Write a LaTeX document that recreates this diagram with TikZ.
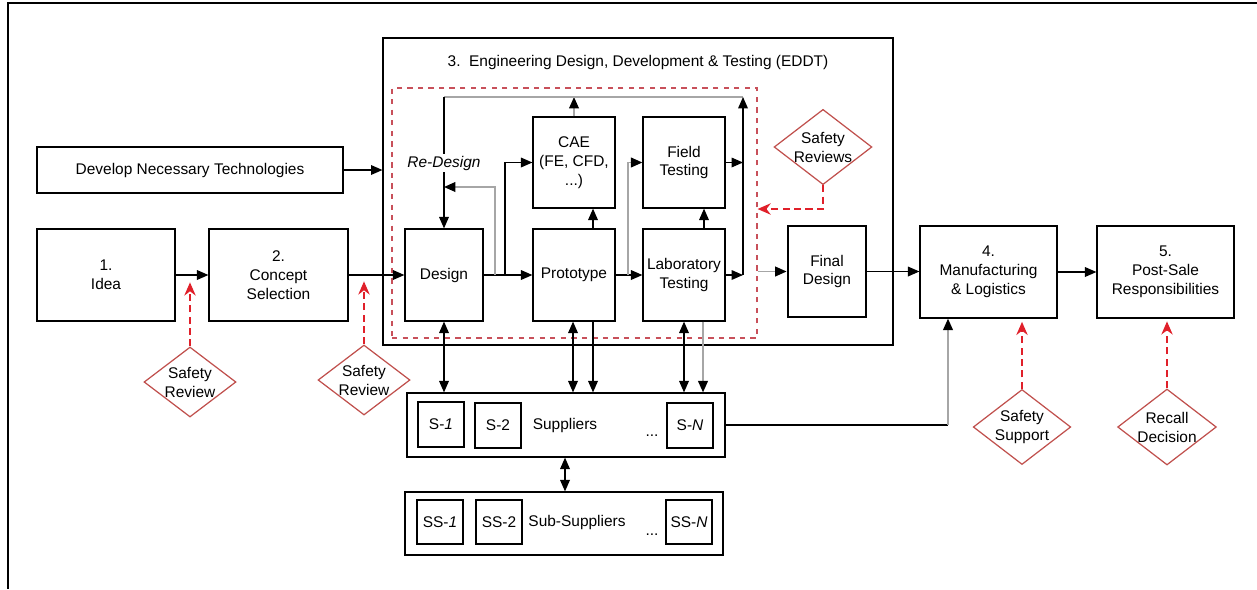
\documentclass[tikz,border=0pt]{standalone}
\usepackage{fontspec}
\setmainfont{Liberation Sans}
\usepackage{tikz}
\usetikzlibrary{arrows.meta,positioning,fit,shapes.geometric,calc}
\definecolor{reviewRed}{HTML}{C0504D}
\definecolor{arrowRed}{HTML}{E0202A}
\definecolor{loopGray}{HTML}{A6A6A6}
\definecolor{dashPink}{HTML}{C8505A}

\tikzset{
  every node/.style={font=\fontsize{8.8}{10.8}\selectfont},
  stagebox/.style={draw,line width=0.7pt,align=center,inner sep=1pt},
  smallbox/.style={draw,line width=0.7pt,minimum width=0.92cm,minimum height=0.9cm,inner sep=0pt},
  review/.style={diamond,draw=reviewRed,line width=0.7pt,aspect=1.3,inner sep=0pt,
                 minimum width=1.84cm,minimum height=1.4cm,align=center},
  flow/.style={line width=0.7pt,-{Triangle[length=6.5pt,width=5.5pt]}},
  flowboth/.style={line width=0.7pt,{Triangle[length=6.5pt,width=5.5pt]}-{Triangle[length=6.5pt,width=5.5pt]}},
  grayflow/.style={line width=1pt,loopGray,-{Triangle[length=6.5pt,width=5.5pt,color=black]}},
  safetyflow/.style={line width=0.8pt,arrowRed,dash pattern=on 4pt off 2.5pt,-{Stealth[length=7.5pt,width=6.5pt]}}
}

\begin{document}
\begin{tikzpicture}[x=0.02cm,y=-0.02cm]
    \useasboundingbox (0,0) rectangle (1257,589);
    \draw[line width=1pt] (1257,3) -- (8,3) -- (8,589);

    % stages 1 and 2
    \node[stagebox,minimum width=2.76cm,minimum height=1.84cm] (idea) at (106,275) {1.\\Idea};
    \node[stagebox,minimum width=2.78cm,minimum height=1.84cm] (concept) at (278.5,275) {2.\\Concept\\Selection};
    \node[stagebox,minimum width=6.12cm,minimum height=0.92cm] (tech) at (190,170) {Develop Necessary Technologies};

    % stage 3: EDDT
    \node[draw,line width=0.7pt,minimum width=10.2cm,minimum height=6.14cm] (eddt) at (638,191.5) {};
    \node (eddtTitle) at (638,62) {3.\ \ Engineering Design, Development \& Testing (EDDT)};
    \node[draw=dashPink,dashed,line width=0.7pt,minimum width=7.3cm,minimum height=5cm] (loopbox) at (574.5,213) {};

    \node[stagebox,minimum width=1.56cm,minimum height=1.84cm] (design) at (444,275) {Design};
    \node[stagebox,minimum width=1.64cm,minimum height=1.82cm] (cae) at (574,162.5) {CAE\\(FE, CFD,\\...)};
    \node[stagebox,minimum width=1.64cm,minimum height=1.84cm] (proto) at (574,275) {Prototype};
    \node[stagebox,minimum width=1.64cm,minimum height=1.82cm] (field) at (684,162.5) {Field\\Testing};
    \node[stagebox,minimum width=1.64cm,minimum height=1.84cm] (lab) at (684,275) {Laboratory\\Testing};
    \node[stagebox,line width=1.6pt,minimum width=1.56cm,minimum height=1.82cm] (final) at (827,271.5) {Final\\Design};

    % stages 4 and 5
    \node[stagebox,minimum width=2.74cm,minimum height=1.84cm] (manuf) at (988.5,272) {4.\\Manufacturing\\\& Logistics};
    \node[stagebox,minimum width=2.74cm,minimum height=1.84cm] (post) at (1165.5,272) {5.\\Post-Sale\\Responsibilities};

    % suppliers
    \node[draw,line width=0.7pt,minimum width=6.36cm,minimum height=1.28cm] (suppliers) at (566,425) {};
    \node[smallbox] (s1) at (441,424.5) {S-\textit{1}};
    \node[smallbox] (s2) at (498,425.5) {S-2};
    \node (supText) at (565,425) {Suppliers};
    \node (supDots) at (652,436) {...};
    \node[smallbox] (sN) at (690,425.5) {S-\textit{N}};

    \node[draw,line width=0.7pt,minimum width=6.36cm,minimum height=1.26cm] (subs) at (564,523.5) {};
    \node[smallbox,minimum height=0.88cm] (ss1) at (440,522) {SS-\textit{1}};
    \node[smallbox,minimum height=0.88cm] (ss2) at (499,522) {SS-2};
    \node (subText) at (577,522) {Sub-Suppliers};
    \node (subDots) at (652,535) {...};
    \node[smallbox,minimum height=0.88cm] (ssN) at (689,522) {SS-\textit{N}};

    % safety diamonds
    \node[review] (sr1) at (190,382) {Safety\\Review};
    \node[review] (sr2) at (364,380) {Safety\\Review};
    \node[review] (srv) at (823,147) {Safety\\Reviews};
    \node[review] (ssup) at (1022,427) {Safety\\Support};
    \node[review] (recall) at (1167,427) {Recall\\Decision};

    % main flow
    \draw[flow] (idea.east) -- (concept.west);
    \draw[flow] (concept.east) -- (design.west);
    \draw[flow] (tech.east) -- (tech.east -| eddt.west);
    \draw[flow] (final.east) -- (final.east -| manuf.west);
    \draw[flow] (manuf.east) -- (post.west);

    % inside the design loop
    \coordinate (dsplit) at (505,275);
    \coordinate (rdsplit) at (495,275);
    \coordinate (rdjoin) at (444,187);
    \coordinate (psplit) at (628,275);
    \coordinate (loopL) at (444,97);
    \coordinate (loopR) at (743,97);
    \coordinate (loopB) at (743,275);

    \draw[flow] (design.east) -- (proto.west);
    \draw[flow] (dsplit) |- (cae.west);
    \draw[grayflow] (rdsplit) |- (rdjoin);
    \draw[grayflow] (cae.north) -- (cae.north |- loopR);
    \draw[line width=1pt,loopGray] (loopR) -- (loopL);
    \draw[flow] (loopL) -- (design.north);
    \node[fill=white,inner sep=1pt,font=\fontsize{8.8}{10.8}\selectfont\itshape] (redesign) at (444,163) {Re-Design};
    \draw[flow] ($(proto.north)+(19,0)$) -- ($(cae.south)+(19,0)$);
    \draw[flow] (proto.east) -- (lab.west);
    \draw[grayflow] (psplit) |- (field.west);
    \draw[flow] ($(lab.north)+(20,0)$) -- ($(field.south)+(20,0)$);
    \draw[flow] (field.east) -- (field.east -| loopR);
    \draw[flow] (lab.east) -- (loopB);
    \draw[flow] (loopB) -- (loopR);
    \draw[grayflow] (final.west -| loopbox.east) -- (final.west);

    % to and from suppliers
    \draw[flowboth] (design.south) -- (design.south |- suppliers.north);
    \draw[flowboth] ($(proto.south)+(-1,0)$) -- ($(proto.south |- suppliers.north)+(-1,0)$);
    \draw[flow] ($(proto.south)+(19,0)$) -- ($(proto.south |- suppliers.north)+(19,0)$);
    \draw[flowboth] (lab.south) -- (lab.south |- suppliers.north);
    \draw[grayflow] ($(lab.south)+(19,0)$) -- ($(lab.south |- suppliers.north)+(19,0)$);
    \draw[flowboth] (supText.south |- suppliers.south) -- (supText.south |- subs.north);
    \coordinate (mcorner) at (948,425);
    \draw[line width=0.7pt] (suppliers.east) -- (mcorner);
    \draw[grayflow] (mcorner) -- (mcorner |- manuf.south);

    % safety reviews
    \draw[safetyflow] (sr1.north) -- ++(0,-64);
    \draw[safetyflow] (sr2.north) -- ++(0,-63);
    \draw[safetyflow] (srv.south) |- ($(loopbox.east)+(0,-4)$);
    \draw[safetyflow] (ssup.north) -- ++(0,-67);
    \draw[safetyflow] (recall.north) -- ++(0,-67);
\end{tikzpicture}
\end{document}
